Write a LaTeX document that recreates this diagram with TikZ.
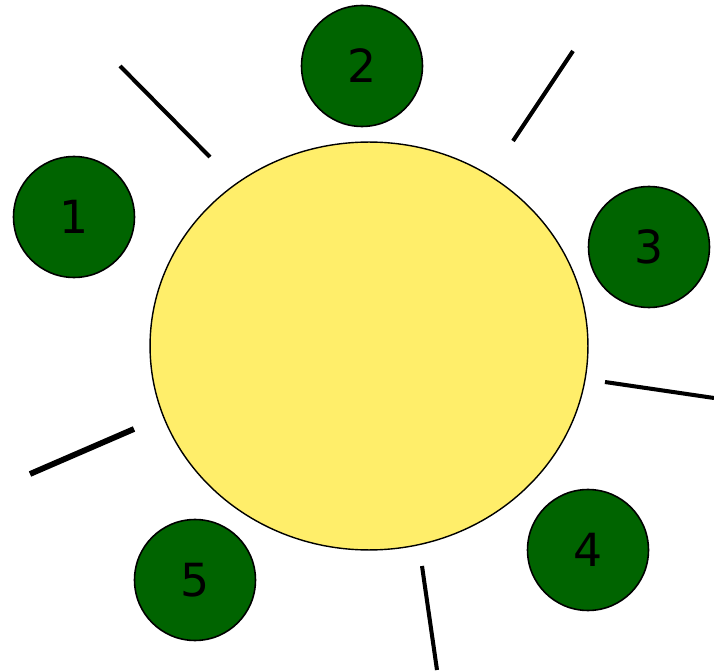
\documentclass[tikz,border=0pt]{standalone}
\usepackage{fontspec}
\setmainfont{DejaVu Sans}
\usepackage{xcolor}
\usetikzlibrary{shapes.geometric}

\definecolor{sunyellow}{HTML}{FFEE6A}
\definecolor{planetgreen}{HTML}{006400}

\begin{document}
\begin{tikzpicture}[
    x=0.02cm, y=-0.02cm,
    sun/.style={ellipse, draw, line width=0.8pt, fill=sunyellow, minimum width=8.76cm, minimum height=8.16cm, inner sep=0pt},
    planet/.style={circle, draw, line width=0.9pt, fill=planetgreen, minimum size=2.42cm, inner sep=0pt, font=\fontsize{26}{30}\selectfont},
    ray/.style={line width=2.3pt},
    thickray/.style={line width=3.3pt},
]
\useasboundingbox (0,0) rectangle (714,672);

% Sonne
\node[sun] (sun) at (369,346) {};

% Planeten
\node[planet] (p1) at (74,217) {1};
\node[planet] (p2) at (362,66) {2};
\node[planet] (p3) at (649,247) {3};
\node[planet] (p4) at (588,550) {4};
\node[planet] (p5) at (195,580) {5};

% Strahlen
\coordinate (r1a) at (120,66);
\coordinate (r1b) at (210,157);
\coordinate (r2a) at (573,51);
\coordinate (r2b) at (513,141);
\coordinate (r3a) at (605,382);
\coordinate (r3b) at (714,398);
\coordinate (r4a) at (422,566);
\coordinate (r4b) at (437,670);
\coordinate (r5a) at (30,474);
\coordinate (r5b) at (134,429);

\draw[ray] (r1a) -- (r1b);
\draw[ray] (r2a) -- (r2b);
\draw[ray] (r3a) -- (r3b);
\draw[ray] (r4a) -- (r4b);
\draw[thickray] (r5a) -- (r5b);

\end{tikzpicture}
\end{document}
